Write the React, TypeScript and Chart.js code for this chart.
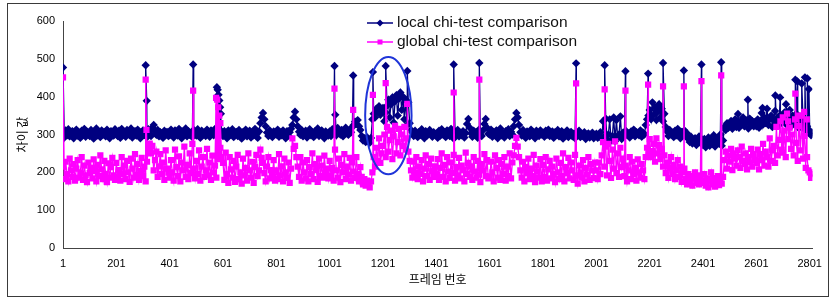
import React, { useEffect, useRef } from "react";
import { Chart, registerables } from "chart.js";

Chart.register(...registerables);

// ---- data ----
const FRAME_START = 1;
const FRAME_STEP = 5;
const X_TICKS = [1, 201, 401, 601, 801, 1001, 1201, 1401, 1601, 1801, 2001, 2201, 2401, 2601, 2801];
const Y_MIN = 0;
const Y_MAX = 600;
const Y_STEP = 100;

const LOCAL_LABEL = "local chi-test comparison";
const GLOBAL_LABEL = "global chi-test comparison";
const X_TITLE = "프레임 번호";
const Y_TITLE = "차이 값";

// local series, one value every 5 frames starting at frame 1 (40 values per 200 frames)
const LOCAL_BASE = [
  305, 292, 311, 298, 314, 295, 301, 309, 290, 306, 313, 297, 303, 291, 310, 299, 315, 294, 307, 300,
  296, 312, 302, 289, 308, 316, 298, 304, 293, 311, 300, 306, 295, 313, 301, 290, 309, 303, 297, 314,
  303, 296, 310, 291, 315, 300, 307, 294, 312, 302, 298, 316, 292, 305, 309, 297, 313, 301, 290, 306,
  311, 299, 304, 293, 314, 302, 296, 318, 325, 308, 299, 312, 295, 306, 303, 291, 310, 300, 307, 296,
  298, 313, 301, 292, 311, 304, 297, 315, 300, 290, 308, 303, 316, 295, 309, 299, 305, 293, 312, 302,
  297, 314, 306, 291, 310, 300, 304, 296, 313, 308, 294, 311, 303, 298, 315, 302, 318, 305, 312, 300,
  296, 309, 302, 290, 311, 298, 305, 314, 293, 300, 307, 296, 312, 301, 289, 306, 299, 313, 295, 303,
  310, 292, 304, 298, 315, 300, 291, 308, 330, 345, 357, 340, 322, 305, 296, 311, 300, 293, 308, 302,
  300, 313, 294, 305, 298, 311, 303, 290, 309, 297, 306, 315, 325, 345, 360, 340, 322, 307, 299, 312,
  295, 304, 310, 292, 301, 314, 298, 306, 293, 309, 302, 316, 296, 305, 311, 300, 290, 308, 303, 297,
  308, 296, 314, 303, 310, 298, 317, 305, 300, 312, 295, 309, 318, 304, 299, 313, 306, 320, 325, 334,
  328, 338, 322, 312, 296, 284, 290, 280, 293, 286, 278, 291, 340, 355, 345, 368, 360, 375, 352, 362,
  370, 335, 358, 376, 392, 345, 380, 398, 332, 388, 404, 350, 395, 411, 365, 400, 340, 392, 325, 385,
  330, 312, 305, 296, 310, 301, 293, 307, 299, 314, 303, 290, 309, 297, 305, 312, 300, 294, 306, 301,
  302, 291, 310, 297, 314, 300, 306, 293, 311, 303, 296, 315, 299, 289, 308, 301, 312, 295, 305, 298,
  309, 292, 304, 328, 341, 318, 303, 294, 310, 299, 307, 291, 313, 300, 296, 311, 328, 341, 318, 302,
  300, 313, 294, 306, 299, 311, 290, 305, 316, 298, 303, 292, 309, 301, 314, 296, 307, 300, 322, 340,
  357, 345, 325, 306, 297, 312, 300, 291, 308, 303, 295, 313, 299, 305, 290, 310, 302, 296, 311, 300,
  305, 294, 310, 299, 313, 296, 302, 308, 291, 306, 300, 312, 295, 303, 309, 289, 304, 298, 311, 293,
  300, 307, 295, 302, 290, 305, 298, 310, 293, 301, 296, 306, 288, 300, 303, 292, 299, 305, 290, 297,
  302, 291, 298, 306, 289, 335, 294, 342, 287, 300, 340, 284, 296, 345, 282, 338, 293, 300, 348, 288,
  305, 296, 310, 299, 303, 292, 308, 300, 313, 295, 306, 302, 298, 311, 294, 305, 300, 325, 340, 350,
  365, 340, 385, 352, 372, 338, 360, 380, 345, 368, 335, 355, 320, 308, 296, 312, 300, 305, 293, 310,
  298, 315, 302, 290, 307, 299, 311, 296, 303, 288, 280, 294, 276, 285, 290, 272, 283, 295, 278, 286,
  272, 288, 266, 281, 292, 270, 285, 275, 298, 268, 282, 290, 276, 300, 270, 284, 320, 312, 330, 318,
  325, 336, 315, 328, 340, 320, 332, 318, 335, 326, 345, 322, 330, 338, 316, 342, 328, 335, 322, 333,
  322, 340, 318, 335, 357, 326, 345, 330, 368, 325, 340, 350, 320, 338, 362, 330, 345, 325, 352, 335,
  340, 358, 328, 346, 332, 365, 322, 350, 338, 328, 355, 320, 342, 333, 318, 340, 326, 312, 322, 305,
  310, 298, 305,
];

// global series, one value every 5 frames starting at frame 1 (40 values per 200 frames)
const GLOBAL_BASE = [
  215, 182, 228, 195, 176, 236, 205, 188, 222, 178, 210, 232, 186, 200, 240, 180, 218, 192, 174, 226,
  198, 212, 184, 234, 203, 176, 220, 190, 245, 208, 182, 230, 196, 174, 224, 186, 214, 238, 192, 180,
  225, 188, 206, 178, 240, 196, 218, 182, 230, 200, 175, 236, 210, 186, 248, 194, 222, 180, 204, 238,
  190, 215, 176, 228, 262, 276, 250, 270, 205, 232, 255, 188, 216, 248, 196, 226, 180, 258, 210, 199,
  186, 232, 200, 178, 260, 214, 190, 242, 176, 226, 205, 268, 188, 220, 182, 250, 198, 275, 210, 184,
  230, 196, 258, 178, 215, 240, 188, 205, 262, 192, 226, 180, 244, 200, 218, 186, 235, 250, 265, 240,
  225, 180, 252, 196, 172, 240, 208, 186, 230, 175, 215, 246, 182, 200, 170, 236, 192, 212, 178, 250,
  205, 186, 228, 172, 214, 246, 190, 205, 260, 238, 225, 198, 176, 215, 240, 184, 206, 190, 232, 178,
  205, 182, 248, 192, 216, 176, 236, 200, 185, 226, 172, 210, 290, 262, 270, 240, 215, 188, 240, 178,
  226, 200, 184, 232, 176, 214, 195, 250, 182, 222, 206, 175, 236, 190, 218, 186, 244, 198, 210, 184,
  230, 192, 212, 178, 260, 205, 186, 236, 174, 220, 200, 248, 182, 215, 194, 238, 178, 226, 202, 185,
  240, 196, 176, 214, 188, 168, 182, 165, 178, 172, 160, 176, 200, 240, 215, 265, 230, 290, 225, 250,
  270, 300, 240, 320, 255, 285, 310, 235, 295, 323, 250, 280, 315, 245, 300, 270, 320, 260, 290, 255,
  230, 205, 186, 228, 198, 240, 182, 215, 196, 232, 176, 210, 245, 190, 222, 180, 236, 204, 188, 216,
  195, 235, 180, 212, 250, 188, 220, 176, 240, 202, 185, 226, 198, 246, 178, 214, 192, 238, 184, 218,
  206, 176, 252, 196, 225, 188, 216, 180, 240, 202, 186, 230, 194, 174, 222, 205, 248, 190, 232, 184,
  188, 228, 200, 176, 245, 212, 186, 232, 180, 222, 196, 240, 178, 215, 190, 250, 184, 226, 245, 270,
  291, 268, 240, 205, 186, 228, 176, 214, 198, 236, 182, 210, 190, 246, 174, 218, 202, 186, 235, 176,
  220, 188, 240, 178, 208, 230, 184, 215, 196, 174, 236, 200, 182, 225, 190, 250, 176, 214, 198, 238,
  184, 226, 205, 180, 246, 192, 170, 218, 200, 186, 232, 176, 212, 194, 240, 180, 222, 205, 185, 226,
  205, 182, 226, 195, 245, 280, 215, 268, 192, 275, 230, 185, 260, 210, 282, 198, 250, 188, 265, 214,
  236, 190, 218, 176, 205, 240, 182, 228, 196, 212, 178, 234, 200, 186, 222, 205, 182, 240, 265, 250,
  288, 240, 256, 275, 228, 290, 250, 272, 235, 262, 215, 245, 198, 226, 185, 212, 240, 196, 220, 182,
  205, 232, 188, 215, 175, 200, 210, 182, 168, 195, 176, 190, 165, 184, 200, 172, 188, 168, 192, 178,
  172, 195, 165, 184, 160, 178, 200, 168, 185, 162, 176, 190, 166, 180, 170, 188, 232, 255, 210, 245,
  228, 262, 206, 250, 236, 218, 258, 240, 212, 268, 230, 222, 250, 208, 240, 226, 262, 215, 248, 232,
  225, 260, 208, 248, 232, 275, 218, 255, 240, 215, 290, 230, 258, 270, 225, 320, 245, 286, 335, 260,
  252, 310, 240, 355, 288, 318, 262, 300, 245, 340, 278, 230, 322, 258, 350, 236, 296, 212, 240, 205,
  200, 185, 195,
];

// isolated peaks (frame, value)
const LOCAL_SPIKE_FRAMES = [1, 311, 315, 489, 578, 581, 584, 587, 590, 593, 1019, 1022, 1089, 1163, 1211, 1292, 1466, 1562, 1925, 2032, 2110, 2195, 2251, 2329, 2395, 2469, 2532, 2569, 2624, 2672, 2690, 2712, 2747, 2755, 2771, 2783, 2792, 2798];
const LOCAL_SPIKE_VALUES = [477, 483, 389, 485, 425, 418, 405, 390, 372, 355, 481, 352, 456, 465, 481, 468, 485, 489, 488, 483, 467, 461, 489, 469, 485, 491, 354, 392, 370, 403, 398, 380, 445, 440, 435, 451, 448, 420];

const GLOBAL_SPIKE_FRAMES = [1, 311, 314, 489, 575, 579, 583, 587, 591, 1019, 1089, 1163, 1211, 1292, 1466, 1562, 1925, 2032, 2110, 2195, 2251, 2329, 2395, 2469, 2700, 2720, 2747, 2760, 2780, 2790];
const GLOBAL_SPIKE_VALUES = [451, 445, 312, 416, 397, 392, 372, 350, 330, 421, 365, 405, 436, 381, 411, 445, 435, 419, 416, 432, 427, 427, 441, 456, 345, 335, 408, 350, 360, 340];

// highlighted region (ellipse), in data units
const HIGHLIGHT_FRAME = 1221;
const HIGHLIGHT_VALUE = 350;
const HIGHLIGHT_FRAME_RADIUS = 87;
const HIGHLIGHT_VALUE_RADIUS = 155;

const LOCAL_COLOR = "#000080";
const GLOBAL_COLOR = "#ff00ff";

function buildSeries(base: number[], spikeFrames: number[], spikeValues: number[]) {
  const pts: { x: number; y: number; o: number }[] = [];
  base.forEach((v, i) => pts.push({ x: FRAME_START + i * FRAME_STEP, y: v, o: 0 }));
  spikeFrames.forEach((f, i) => pts.push({ x: f, y: spikeValues[i], o: 1 }));
  pts.sort((a, b) => (a.x - b.x) || (a.o - b.o));
  return pts.map((p) => ({ x: p.x, y: p.y }));
}

const lastFrame = 2811;

const framePlugin = {
  id: "framePlugin",
  beforeDraw(chart: any) {
    const ctx = chart.ctx;
    ctx.save();
    ctx.fillStyle = "#ffffff";
    ctx.fillRect(0, 0, chart.width, chart.height);
    ctx.strokeStyle = "#3a3a3a";
    ctx.lineWidth = 1;
    ctx.strokeRect(7.5, 3.5, 821, 293);
    ctx.restore();
  },
  afterDatasetsDraw(chart: any) {
    const ctx = chart.ctx;
    const xs = chart.scales.x;
    const ys = chart.scales.y;
    const cx = xs.getPixelForValue(HIGHLIGHT_FRAME);
    const cy = ys.getPixelForValue(HIGHLIGHT_VALUE);
    const rx = Math.abs(xs.getPixelForValue(HIGHLIGHT_FRAME + HIGHLIGHT_FRAME_RADIUS) - cx);
    const ry = Math.abs(ys.getPixelForValue(HIGHLIGHT_VALUE + HIGHLIGHT_VALUE_RADIUS) - cy);
    ctx.save();
    ctx.strokeStyle = "#1f35d8";
    ctx.lineWidth = 2;
    ctx.beginPath();
    ctx.ellipse(cx, cy, rx, ry, 0, 0, Math.PI * 2);
    ctx.stroke();
    ctx.restore();
  },
  afterDraw(chart: any) {
    const ctx = chart.ctx;
    ctx.save();
    const rows = [
      { label: LOCAL_LABEL, color: LOCAL_COLOR, shape: "diamond", y: 23 },
      { label: GLOBAL_LABEL, color: GLOBAL_COLOR, shape: "square", y: 42 },
    ];
    rows.forEach((r) => {
      ctx.strokeStyle = r.color;
      ctx.fillStyle = r.color;
      ctx.lineWidth = 1.5;
      ctx.beginPath();
      ctx.moveTo(367, r.y);
      ctx.lineTo(393, r.y);
      ctx.stroke();
      ctx.beginPath();
      if (r.shape === "diamond") {
        ctx.moveTo(380, r.y - 3.5);
        ctx.lineTo(383.5, r.y);
        ctx.lineTo(380, r.y + 3.5);
        ctx.lineTo(376.5, r.y);
        ctx.closePath();
      } else {
        ctx.rect(377.5, r.y - 2.5, 5, 5);
      }
      ctx.fill();
      ctx.fillStyle = "#111111";
      ctx.font = "15.5px 'Liberation Sans', Arial, sans-serif";
      ctx.textBaseline = "middle";
      ctx.textAlign = "left";
      ctx.fillText(r.label, 397, r.y);
    });
    ctx.restore();
  },
};

export default function App() {
  const ref = useRef<HTMLCanvasElement | null>(null);
  useEffect(() => {
    if (!ref.current) return;
    const chart = new Chart(ref.current, {
      type: "line",
      data: {
        datasets: [
          {
            label: LOCAL_LABEL,
            data: buildSeries(LOCAL_BASE, LOCAL_SPIKE_FRAMES, LOCAL_SPIKE_VALUES),
            borderColor: LOCAL_COLOR,
            backgroundColor: LOCAL_COLOR,
            borderWidth: 1.3,
            pointStyle: "rectRot",
            pointRadius: 4.2,
            pointBorderWidth: 0,
            order: 2,
          },
          {
            label: GLOBAL_LABEL,
            data: buildSeries(GLOBAL_BASE, GLOBAL_SPIKE_FRAMES, GLOBAL_SPIKE_VALUES),
            borderColor: GLOBAL_COLOR,
            backgroundColor: GLOBAL_COLOR,
            borderWidth: 1.3,
            pointStyle: "rect",
            pointRadius: 4.4,
            pointBorderWidth: 0,
            order: 1,
          },
        ],
      },
      options: {
        animation: false,
        responsive: false,
        maintainAspectRatio: false,
        parsing: false,
        normalized: true,
        layout: { autoPadding: false, padding: { top: 21, right: 8, bottom: 8, left: 0 } },
        plugins: { legend: { display: false }, tooltip: { enabled: false } },
        events: [],
        scales: {
          x: {
            type: "linear",
            min: FRAME_START,
            max: lastFrame,
            afterBuildTicks: (s: any) => {
              s.ticks = X_TICKS.map((v) => ({ value: v }));
            },
            afterFit: (s: any) => {
              s.height = 43;
            },
            grid: { display: false, drawTicks: false },
            border: { display: true, color: "#444444", width: 1 },
            ticks: {
              padding: 9,
              maxRotation: 0,
              autoSkip: false,
              color: "#000000",
              font: { family: "'Liberation Sans', Arial, sans-serif", size: 11 },
              callback: (v: any) => String(v),
            },
            title: {
              display: true,
              text: X_TITLE,
              color: "#000000",
              font: { family: "'Noto Sans CJK KR', sans-serif", size: 12 },
              padding: { top: 0, bottom: 4 },
            },
          },
          y: {
            min: Y_MIN,
            max: Y_MAX,
            afterFit: (s: any) => {
              s.width = 63;
            },
            grid: { display: false, drawTicks: false },
            border: { display: true, color: "#444444", width: 1 },
            ticks: {
              stepSize: Y_STEP,
              padding: 8,
              color: "#000000",
              font: { family: "'Liberation Sans', Arial, sans-serif", size: 11 },
            },
            title: {
              display: true,
              text: Y_TITLE,
              color: "#000000",
              font: { family: "'Noto Sans CJK KR', sans-serif", size: 12 },
              padding: { top: 15, bottom: 0 },
            },
          },
        },
      },
      plugins: [framePlugin],
    } as any);
    return () => chart.destroy();
  }, []);
  return (
    <div style={{ position: "fixed", left: 0, top: 0, width: 831, height: 299, background: "#fff" }}>
      <canvas ref={ref} width={831} height={299} style={{ display: "block", width: 831, height: 299 }} />
    </div>
  );
}
